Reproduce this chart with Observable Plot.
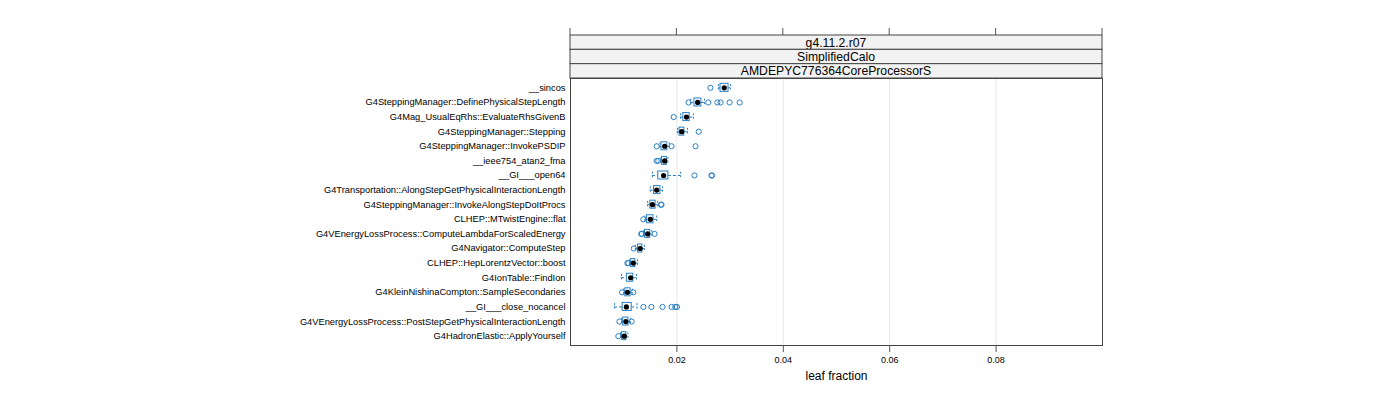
<!DOCTYPE html>
<html>
<head>
<meta charset="utf-8">
<script src="https://cdn.jsdelivr.net/npm/d3@7"></script>
<script src="https://cdn.jsdelivr.net/npm/@observablehq/plot@0.6"></script>
<style>
  html, body { margin: 0; padding: 0; background: #fff; }
  svg { font-family: "Liberation Sans", Arial, sans-serif; }
</style>
</head>
<body>
<div id="chart"></div>
<script>
const categories = [
  "__sincos",
  "G4SteppingManager::DefinePhysicalStepLength",
  "G4Mag_UsualEqRhs::EvaluateRhsGivenB",
  "G4SteppingManager::Stepping",
  "G4SteppingManager::InvokePSDIP",
  "__ieee754_atan2_fma",
  "__GI___open64",
  "G4Transportation::AlongStepGetPhysicalInteractionLength",
  "G4SteppingManager::InvokeAlongStepDoItProcs",
  "CLHEP::MTwistEngine::flat",
  "G4VEnergyLossProcess::ComputeLambdaForScaledEnergy",
  "G4Navigator::ComputeStep",
  "CLHEP::HepLorentzVector::boost",
  "G4IonTable::FindIon",
  "G4KleinNishinaCompton::SampleSecondaries",
  "__GI___close_nocancel",
  "G4VEnergyLossProcess::PostStepGetPhysicalInteractionLength",
  "G4HadronElastic::ApplyYourself"
];
const whiskerLo = [0.0278, 0.0226, 0.0207, 0.0201, 0.0168, 0.0170, 0.0154, 0.0150, 0.0145, 0.0140, 0.0137, 0.0122, 0.0111, 0.0096, 0.0100, 0.0083, 0.0096, 0.0094];
const q1        = [0.0282, 0.0233, 0.0212, 0.0205, 0.0171, 0.0172, 0.0165, 0.0157, 0.0150, 0.0144, 0.0140, 0.0127, 0.0114, 0.0106, 0.0103, 0.0098, 0.0099, 0.0097];
const median    = [0.0289, 0.0239, 0.0218, 0.0209, 0.0177, 0.0177, 0.0175, 0.0162, 0.0154, 0.0150, 0.0145, 0.0131, 0.0118, 0.0113, 0.0107, 0.0105, 0.0104, 0.0101];
const q3        = [0.0297, 0.0246, 0.0224, 0.0214, 0.0182, 0.0181, 0.0184, 0.0169, 0.0160, 0.0156, 0.0150, 0.0135, 0.0122, 0.0118, 0.0113, 0.0115, 0.0109, 0.0105];
const whiskerHi = [0.0301, 0.0252, 0.0231, 0.0220, 0.0186, 0.0183, 0.0207, 0.0173, 0.0164, 0.0162, 0.0153, 0.0139, 0.0126, 0.0124, 0.0116, 0.0125, 0.0113, 0.0108];
const outliers = [
  [0.0263],
  [0.0222, 0.0259, 0.0276, 0.0282, 0.0299, 0.0318],
  [0.0194],
  [0.0241],
  [0.0162, 0.0190, 0.0235],
  [0.0162, 0.0165],
  [0.0233, 0.0265, 0.0266],
  [],
  [0.0170, 0.0171],
  [0.0137],
  [0.0133, 0.0134, 0.0158],
  [0.0119],
  [0.0107, 0.0109],
  [],
  [0.0097, 0.0118],
  [0.0137, 0.0152, 0.0173, 0.0190, 0.0197, 0.0200],
  [0.0092, 0.0115],
  [0.0090]
];
const xTicks = [0.02, 0.04, 0.06, 0.08];
const stripLabels = ["g4.11.2.r07", "SimplifiedCalo", "AMDEPYC776364CoreProcessorS"];
const xLabel = "leaf fraction";

const blue = "#2b80c3";
const boxes = categories.map((c, i) => ({cat: c, lo: whiskerLo[i], q1: q1[i], med: median[i], q3: q3[i], hi: whiskerHi[i]}));
const outPts = categories.flatMap((c, i) => outliers[i].map(v => ({cat: c, v})));

const stripTop = 35;
const stripMark = (index, scales, values, dims) => {
  const g = d3.create("svg:g");
  const x0 = dims.marginLeft, x1 = dims.width - dims.marginRight;
  const h = (dims.marginTop - stripTop) / stripLabels.length;
  for (const t of xTicks) {
    g.append("line").attr("x1", scales.x(t)).attr("x2", scales.x(t))
      .attr("y1", stripTop - 7).attr("y2", stripTop).attr("stroke", "#555");
  }
  g.append("line").attr("x1", x0).attr("x2", x0).attr("y1", stripTop - 7).attr("y2", stripTop).attr("stroke", "#555");
  g.append("line").attr("x1", x1).attr("x2", x1).attr("y1", stripTop - 7).attr("y2", stripTop).attr("stroke", "#555");
  stripLabels.forEach((lab, i) => {
    const y = stripTop + i * h;
    g.append("rect").attr("x", x0).attr("y", y).attr("width", x1 - x0).attr("height", h)
      .attr("fill", "#f2f2f2").attr("stroke", "#444").attr("stroke-width", 1);
    g.append("text").attr("x", (x0 + x1) / 2).attr("y", y + h / 2).attr("dy", "0.36em")
      .attr("text-anchor", "middle").attr("font-size", 12.2).attr("fill", "#000").text(lab);
  });
  return g.node();
};

const chart = Plot.plot({
  width: 1400,
  height: 400,
  marginLeft: 570,
  marginRight: 298,
  marginTop: 78,
  marginBottom: 55,
  style: {fontFamily: "Liberation Sans, Arial, sans-serif", background: "#fff"},
  x: {domain: [0, 0.1], ticks: xTicks, label: null},
  y: {type: "band", domain: categories, paddingInner: 0, paddingOuter: 0.14, round: false, label: null},
  marks: [
    Plot.gridX(xTicks, {stroke: "#e8e8e8", strokeOpacity: 1}),
    Plot.ruleY(boxes, {y: "cat", x1: "lo", x2: "q1", stroke: blue, strokeDasharray: "3,2"}),
    Plot.ruleY(boxes, {y: "cat", x1: "q3", x2: "hi", stroke: blue, strokeDasharray: "3,2"}),
    Plot.tickX(boxes, {x: "lo", y: "cat", stroke: blue, insetTop: 4, insetBottom: 4, strokeDasharray: "2,1.5"}),
    Plot.tickX(boxes, {x: "hi", y: "cat", stroke: blue, insetTop: 4, insetBottom: 4, strokeDasharray: "2,1.5"}),
    Plot.barX(boxes, {y: "cat", x1: "q1", x2: "q3", fill: "none", stroke: blue, insetTop: 3.3, insetBottom: 3.3}),
    Plot.dot(outPts, {x: "v", y: "cat", r: 2.6, stroke: blue, fill: "none", strokeWidth: 1}),
    Plot.dot(boxes, {x: "med", y: "cat", r: 2.6, fill: "#000", stroke: "none"}),
    Plot.frame({stroke: "#444"}),
    Plot.axisX({ticks: xTicks, tickSize: 7, tickPadding: 4, fontSize: 9, tickFormat: d3.format(".2f"), label: null, stroke: "#555"}),
    Plot.axisY({tickSize: 0, tickPadding: 5, fontSize: 9.3, label: null}),
    Plot.text([xLabel], {text: d => d, frameAnchor: "bottom", dy: 34, fontSize: 12, fill: "#000"}),
    stripMark
  ]
});
document.getElementById("chart").append(chart);
</script>
</body>
</html>
